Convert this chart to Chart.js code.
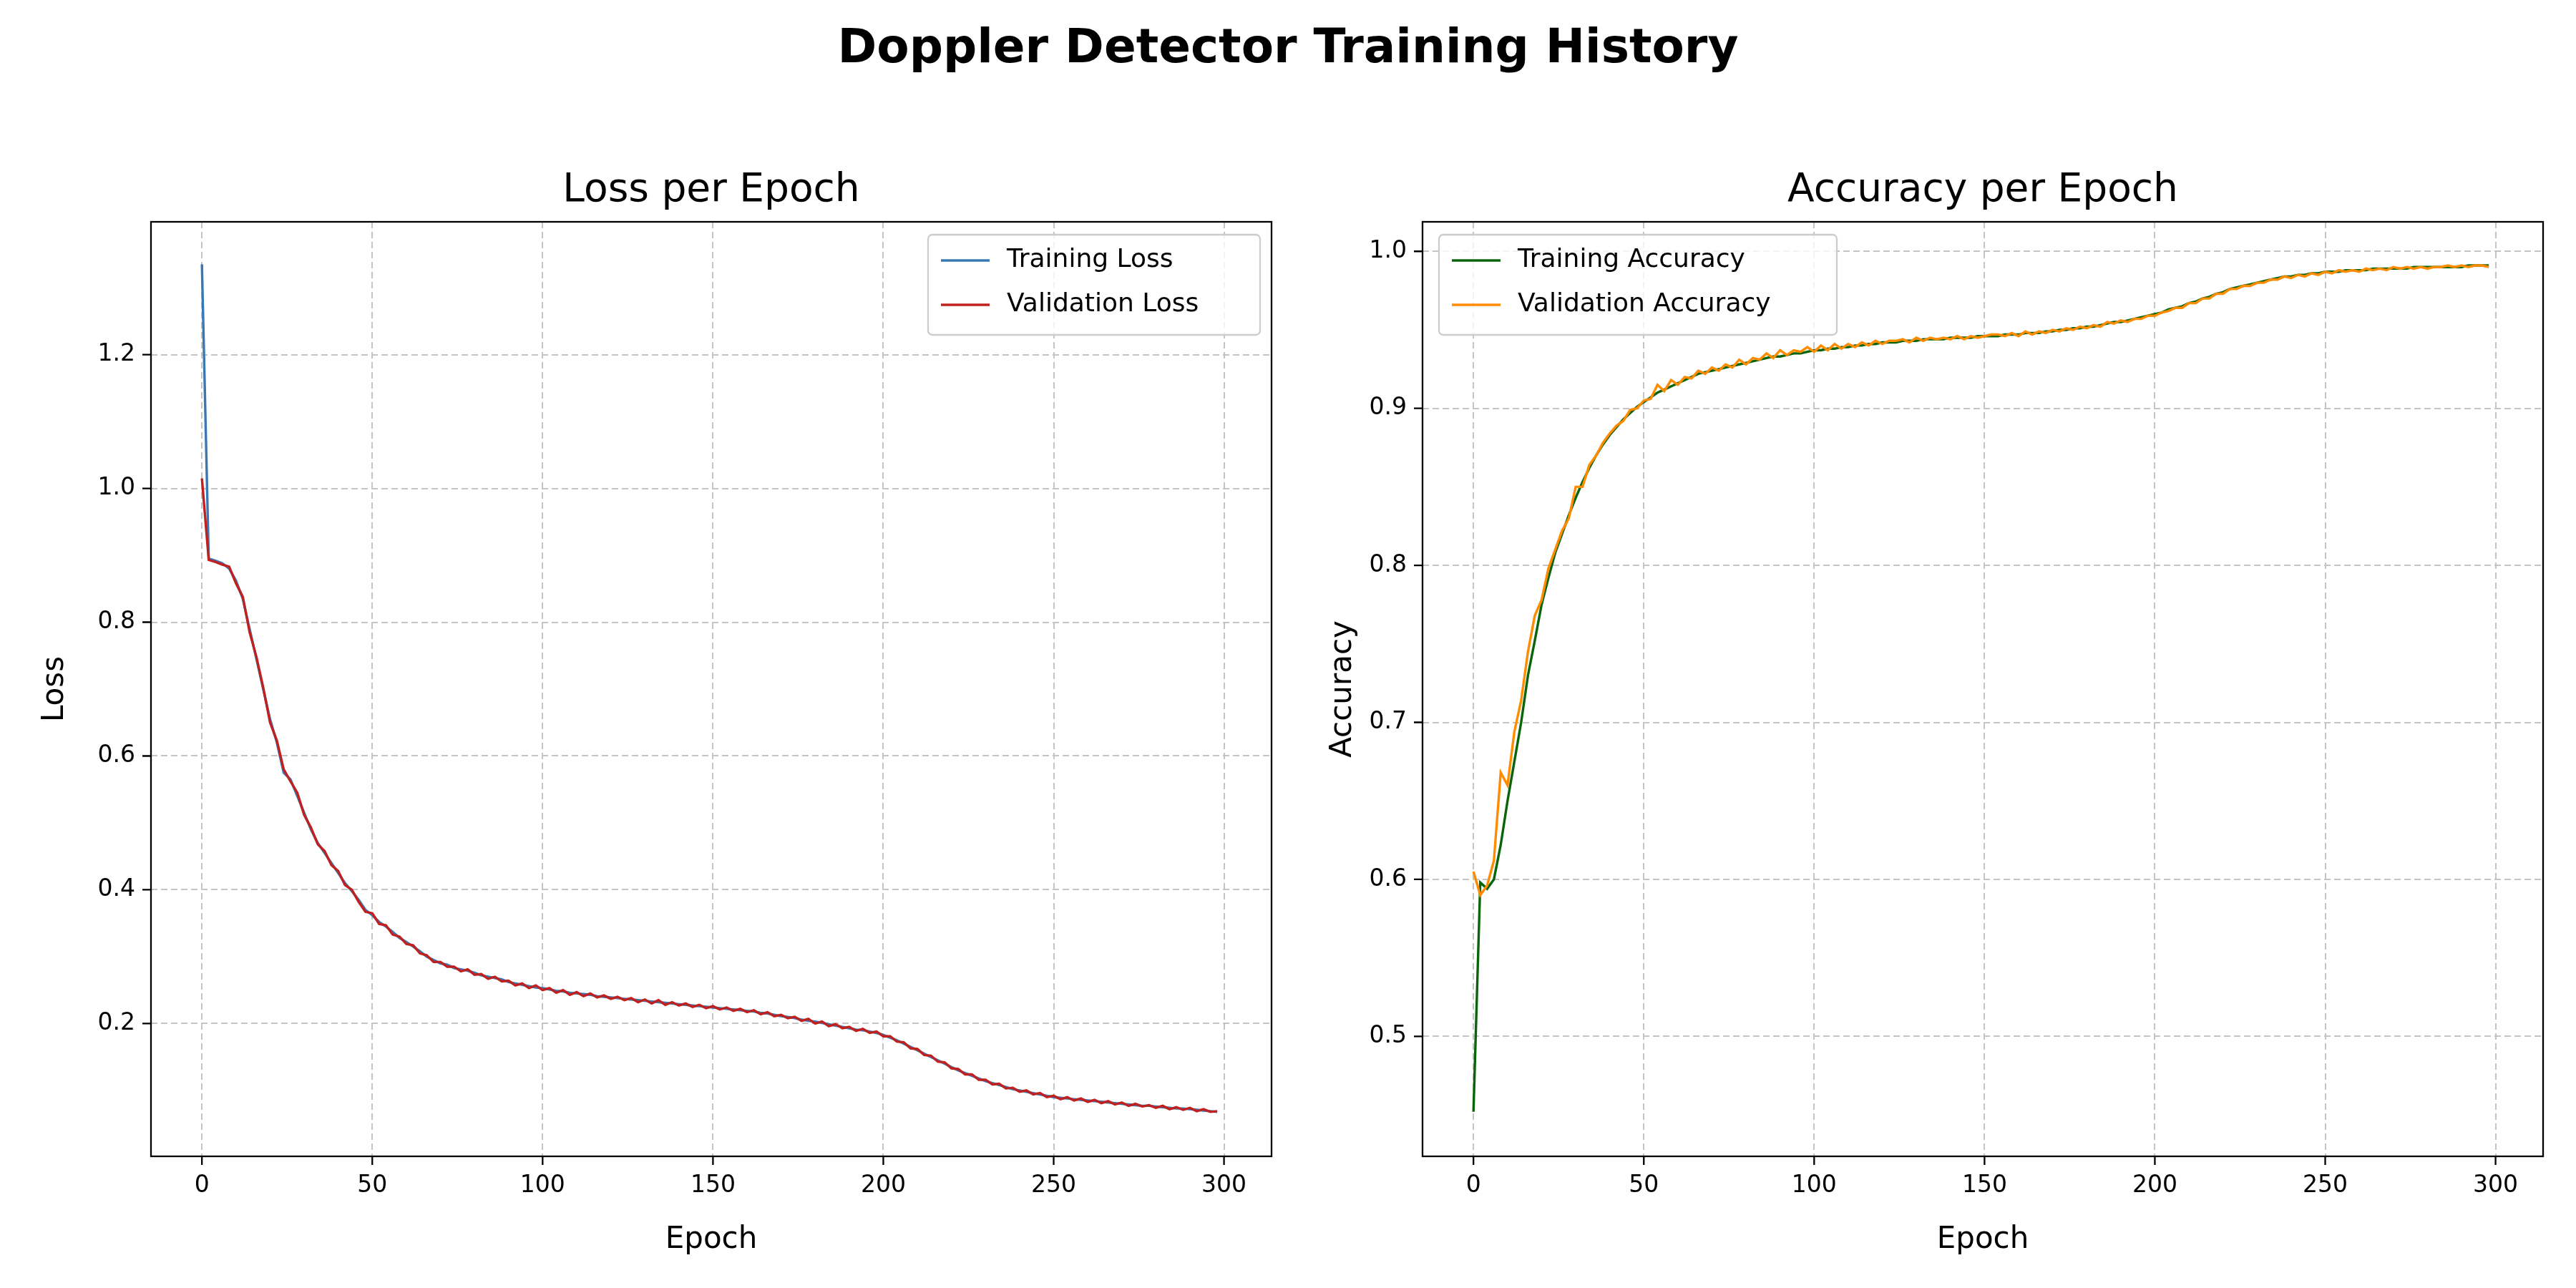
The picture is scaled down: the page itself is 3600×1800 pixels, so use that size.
<!DOCTYPE html>
<html>
<head>
<script src="https://cdn.jsdelivr.net/npm/chart.js"></script>
<style>
  body { margin:0; background:white; width:3600px; height:1800px; position:relative; font-family:"DejaVu Sans"; overflow:hidden; }
  .box { position:absolute; top:0; width:1800px; height:1800px; }
  .t { position:absolute; text-align:center; color:black; white-space:nowrap; }
</style>
</head>
<body>
<div class="t" style="left:0;width:3600px;top:26px;font-size:66px;font-weight:bold;">Doppler Detector Training History</div>
<div class="t" style="left:211px;width:1566px;top:230px;font-size:55px;">Loss per Epoch</div>
<div class="t" style="left:1988px;width:1566px;top:230px;font-size:55px;">Accuracy per Epoch</div>
<div class="box" style="left:0"><canvas id="loss"></canvas></div>
<div class="box" style="left:1800px"><canvas id="acc"></canvas></div>
<script>
// epochs sampled every 2
const epochs = [];
for (let e = 0; e < 300; e += 2) epochs.push(e);

const trainLoss = [1.335,0.895,0.892,0.888,0.880,0.862,0.835,0.790,0.745,0.700,0.655,0.620,0.575,0.565,0.540,0.515,0.490,0.470,0.455,0.440,
0.425,0.410,0.398,0.385,0.370,0.362,0.352,0.345,0.337,0.328,0.322,0.315,0.308,0.300,0.295,0.290,0.288,0.283,0.281,0.279,
0.276,0.272,0.270,0.268,0.266,0.262,0.260,0.258,0.256,0.254,0.253,0.251,0.249,0.248,0.246,0.245,0.244,0.243,0.241,0.240,
0.239,0.238,0.237,0.236,0.235,0.234,0.233,0.232,0.231,0.230,0.229,0.228,0.227,0.226,0.225,0.224,0.223,0.222,0.221,0.220,
0.219,0.218,0.216,0.215,0.213,0.211,0.210,0.208,0.206,0.204,0.203,0.201,0.199,0.197,0.195,0.193,0.191,0.190,0.188,0.186,
0.183,0.179,0.175,0.170,0.165,0.160,0.155,0.150,0.145,0.140,0.135,0.130,0.126,0.122,0.118,0.114,0.111,0.108,0.105,0.102,
0.100,0.098,0.096,0.094,0.092,0.090,0.089,0.088,0.087,0.086,0.085,0.084,0.083,0.082,0.081,0.080,0.079,0.078,0.077,0.077,
0.076,0.075,0.074,0.073,0.073,0.072,0.071,0.070,0.069,0.068];
const valLoss = [1.015,0.893,0.890,0.886,0.883,0.858,0.838,0.785,0.748,0.702,0.650,0.623,0.580,0.562,0.545,0.512,0.493,0.468,0.458,0.437,
0.428,0.407,0.400,0.382,0.367,0.365,0.349,0.347,0.333,0.330,0.319,0.317,0.305,0.302,0.292,0.292,0.285,0.285,0.278,0.281,
0.273,0.274,0.267,0.270,0.263,0.264,0.257,0.260,0.253,0.257,0.250,0.253,0.246,0.250,0.243,0.247,0.241,0.245,0.239,0.242,
0.237,0.240,0.235,0.238,0.232,0.236,0.230,0.235,0.228,0.232,0.227,0.230,0.225,0.228,0.223,0.226,0.221,0.224,0.219,0.222,
0.217,0.220,0.214,0.217,0.211,0.213,0.208,0.210,0.204,0.207,0.200,0.203,0.196,0.199,0.193,0.195,0.189,0.192,0.186,0.188,
0.181,0.181,0.173,0.172,0.163,0.162,0.153,0.152,0.143,0.142,0.133,0.132,0.124,0.124,0.116,0.116,0.109,0.110,0.103,0.104,
0.098,0.100,0.094,0.096,0.090,0.092,0.087,0.090,0.085,0.088,0.083,0.086,0.081,0.084,0.079,0.082,0.077,0.080,0.076,0.078,
0.074,0.077,0.072,0.075,0.071,0.074,0.069,0.072,0.068,0.069];
const trainAcc = [0.452,0.598,0.594,0.600,0.622,0.650,0.675,0.700,0.730,0.752,0.775,0.792,0.808,0.820,0.832,0.843,0.853,0.862,0.870,0.877,
0.883,0.888,0.893,0.897,0.901,0.904,0.907,0.910,0.912,0.914,0.916,0.918,0.920,0.922,0.923,0.924,0.925,0.926,0.927,0.928,
0.929,0.930,0.931,0.932,0.933,0.933,0.934,0.935,0.935,0.936,0.937,0.937,0.938,0.938,0.939,0.939,0.940,0.940,0.941,0.941,
0.942,0.942,0.942,0.943,0.943,0.943,0.944,0.944,0.944,0.944,0.945,0.945,0.945,0.945,0.946,0.946,0.946,0.946,0.947,0.947,
0.947,0.948,0.948,0.948,0.949,0.949,0.950,0.950,0.951,0.951,0.952,0.952,0.953,0.954,0.955,0.955,0.956,0.957,0.958,0.959,
0.960,0.961,0.963,0.964,0.965,0.967,0.968,0.970,0.971,0.973,0.974,0.976,0.977,0.978,0.979,0.980,0.981,0.982,0.983,0.984,
0.984,0.985,0.985,0.986,0.986,0.987,0.987,0.987,0.988,0.988,0.988,0.988,0.989,0.989,0.989,0.989,0.989,0.989,0.990,0.990,
0.990,0.990,0.990,0.990,0.990,0.990,0.991,0.991,0.991,0.991];
const valAcc = [0.605,0.590,0.596,0.612,0.668,0.660,0.694,0.714,0.745,0.768,0.778,0.798,0.810,0.822,0.830,0.850,0.850,0.864,0.870,0.878,
0.884,0.889,0.892,0.899,0.900,0.905,0.906,0.915,0.911,0.918,0.915,0.920,0.919,0.924,0.922,0.926,0.924,0.928,0.926,0.931,
0.928,0.932,0.931,0.935,0.932,0.937,0.934,0.937,0.936,0.939,0.936,0.940,0.937,0.941,0.938,0.941,0.939,0.942,0.940,0.943,
0.941,0.943,0.943,0.944,0.942,0.945,0.943,0.945,0.944,0.945,0.944,0.946,0.944,0.946,0.945,0.946,0.947,0.947,0.946,0.948,
0.946,0.949,0.947,0.949,0.948,0.950,0.949,0.951,0.950,0.952,0.951,0.953,0.952,0.955,0.954,0.956,0.955,0.957,0.957,0.959,
0.959,0.961,0.962,0.964,0.964,0.967,0.967,0.970,0.970,0.973,0.973,0.976,0.976,0.978,0.978,0.980,0.980,0.982,0.982,0.984,
0.983,0.985,0.984,0.986,0.985,0.987,0.986,0.988,0.987,0.988,0.987,0.989,0.988,0.989,0.988,0.990,0.989,0.990,0.989,0.990,
0.989,0.990,0.990,0.991,0.990,0.991,0.990,0.991,0.991,0.990];

const xTicks = [0, 50, 100, 150, 200, 250, 300];
const lossTicks = [0.2, 0.4, 0.6, 0.8, 1.0, 1.2];
const accTicks = [0.5, 0.6, 0.7, 0.8, 0.9, 1.0];

const pts = arr => arr.map((v, i) => ({ x: epochs[i], y: v }));

// frame, outside tick marks and legend box, drawn after datasets
const decor = {
  id: 'decor',
  afterDraw(chart, args, o) {
    const c = chart.ctx, a = chart.chartArea;
    const sx = chart.scales.x, sy = chart.scales.y;
    c.save();
    c.strokeStyle = '#000'; c.lineWidth = 2.3;
    c.strokeRect(a.left, a.top, a.right - a.left, a.bottom - a.top);
    c.beginPath();
    sx.ticks.forEach(t => { const p = sx.getPixelForValue(t.value); c.moveTo(p, a.bottom); c.lineTo(p, a.bottom + 12); });
    sy.ticks.forEach(t => { const p = sy.getPixelForValue(t.value); c.moveTo(a.left, p); c.lineTo(a.left - 12, p); });
    c.stroke();
    const L = o.box;
    c.fillStyle = 'rgba(255,255,255,0.8)';
    c.strokeStyle = '#cccccc'; c.lineWidth = 2.3;
    c.beginPath(); c.roundRect(L.x, L.y, L.w, L.h, 6); c.fill(); c.stroke();
    c.font = '36px "DejaVu Sans"'; c.textBaseline = 'middle';
    chart.data.datasets.forEach((d, i) => {
      const y = L.y + 36 + i * 62;
      c.strokeStyle = d.borderColor; c.lineWidth = 3.4;
      c.beginPath(); c.moveTo(L.x + 18, y); c.lineTo(L.x + 86, y); c.stroke();
      c.fillStyle = '#000'; c.fillText(d.label, L.x + 110, y);
    });
    c.restore();
  }
};

function makeChart(id, sets, yMin, yMax, yTicks, yTitle, yW, padR, box) {
  const cv = document.getElementById(id);
  cv.width = 1800; cv.height = 1800;
  new Chart(cv, {
    type: 'line',
    data: { datasets: sets.map((s, i) => ({ label: s[0], data: pts(s[1]), borderColor: s[2], borderWidth: 3.4, pointRadius: 0, tension: 0, order: sets.length - i })) },
    options: {
      responsive: false, animation: false, devicePixelRatio: 1,
      layout: { padding: { left: 0, right: padR, top: 310, bottom: 0 } },
      plugins: { legend: { display: false }, tooltip: { enabled: false }, decor: { box } },
      scales: {
        x: {
          type: 'linear', min: -14.95, max: 313.95,
          afterBuildTicks: s => { s.ticks = xTicks.map(v => ({ value: v })); },
          afterFit: s => { s.height = 184; },
          ticks: { font: { size: 33, family: 'DejaVu Sans' }, color: '#000', padding: 22, callback: v => v },
          grid: { color: '#c4c4c4', lineWidth: 2, drawTicks: false },
          border: { display: false, dash: [9, 5] },
          title: { display: true, text: 'Epoch', font: { size: 42, family: 'DejaVu Sans' }, color: '#000', padding: { top: 4, bottom: 42 } }
        },
        y: {
          min: yMin, max: yMax,
          afterBuildTicks: s => { s.ticks = yTicks.map(v => ({ value: v })); },
          afterFit: s => { s.width = yW; },
          ticks: { font: { size: 33, family: 'DejaVu Sans' }, color: '#000', padding: 22, callback: v => v.toFixed(1) },
          grid: { color: '#c4c4c4', lineWidth: 2, drawTicks: false },
          border: { display: false, dash: [9, 5] },
          title: { display: true, text: yTitle, font: { size: 42, family: 'DejaVu Sans' }, color: '#000', padding: { top: 52, bottom: 0 } }
        }
      }
    },
    plugins: [decor]
  });
}

makeChart('loss', [['Training Loss', trainLoss, '#3a78b4'], ['Validation Loss', valLoss, '#c0201e']],
  0.0015, 1.3985, lossTicks, 'Loss', 211, 23, { x: 1297, y: 328, w: 464, h: 140 });
makeChart('acc', [['Training Accuracy', trainAcc, '#0a640a'], ['Validation Accuracy', valAcc, '#ff8c00']],
  0.4236, 1.0188, accTicks, 'Accuracy', 188, 46, { x: 211, y: 328, w: 556, h: 140 });
</script>
</body>
</html>
